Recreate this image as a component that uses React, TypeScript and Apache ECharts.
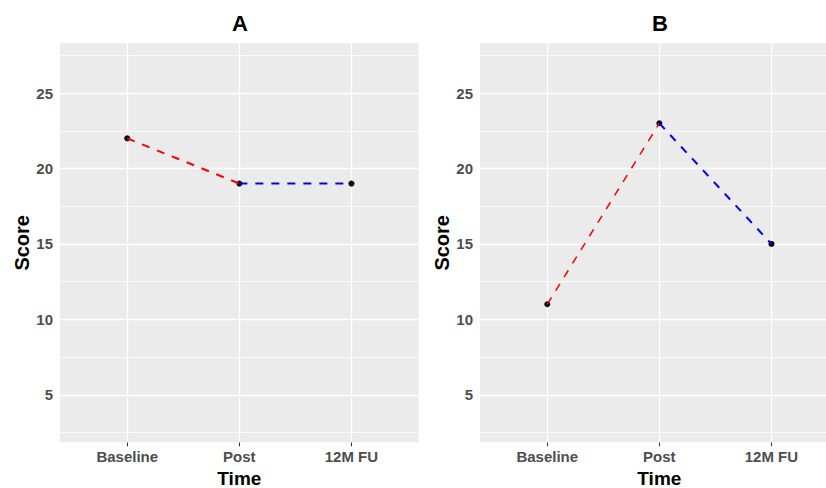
import React, { useEffect, useRef } from "react";
import * as echarts from "echarts";

// Time points on the x axis and the scores per panel
const timepoints = ["Baseline", "Post", "12M FU"];
const scoresA = [22, 19, 19];
const scoresB = [11, 23, 15];
const panelTitles = ["A", "B"];

// Tick labels and grid positions on the score axis
const yTicks = [5, 10, 15, 20, 25];
const yMinorGrid = [2.5, 7.5, 12.5, 17.5, 22.5, 27.5];
const xTicks = [0, 1, 2];

const FONT = '"Liberation Sans", Arial, sans-serif';
const PANEL_OFFSET = 420;

function buildOption() {
  const panels = [scoresA, scoresB];
  const grids: any[] = [];
  const xAxes: any[] = [];
  const yAxes: any[] = [];
  const series: any[] = [];
  const graphics: any[] = [];

  panels.forEach((scores, i) => {
    const left = 60 + i * PANEL_OFFSET;
    grids.push({
      left,
      top: 43.3,
      width: 358.7,
      height: 399,
      show: true,
      backgroundColor: "#EBEBEB",
      borderWidth: 0,
      containLabel: false,
      outerBoundsMode: "none",
    });
    xAxes.push({
      type: "value",
      gridIndex: i,
      min: -0.6,
      max: 2.6,
      name: "Time",
      nameLocation: "middle",
      nameGap: 26,
      nameTextStyle: { fontFamily: FONT, fontWeight: "bold", fontSize: 19, color: "#000" },
      axisLine: { show: false },
      splitLine: { show: false },
      axisTick: { show: true, customValues: xTicks, length: 4, lineStyle: { color: "#333", width: 1 } },
      axisLabel: {
        show: true,
        customValues: xTicks,
        margin: 7,
        formatter: (v: number) => timepoints[Math.round(v)] ?? "",
        fontFamily: FONT,
        fontWeight: "bold",
        fontSize: 15,
        color: "#4D4D4D",
      },
    });
    yAxes.push({
      type: "value",
      gridIndex: i,
      min: 1.85,
      max: 28.3,
      name: "Score",
      nameLocation: "middle",
      nameGap: 27,
      nameTextStyle: { fontFamily: FONT, fontWeight: "bold", fontSize: 20, color: "#000" },
      axisLine: { show: false },
      splitLine: { show: false },
      axisTick: { show: true, customValues: yTicks, length: 4, lineStyle: { color: "#333", width: 1 } },
      axisLabel: {
        show: true,
        customValues: yTicks,
        margin: 7,
        fontFamily: FONT,
        fontWeight: "bold",
        fontSize: 15,
        color: "#4D4D4D",
      },
    });

    const pts = scores.map((s, k) => [k, s]);

    // invisible carrier for the white panel grid lines
    series.push({
      type: "line",
      xAxisIndex: i,
      yAxisIndex: i,
      data: pts,
      symbol: "none",
      lineStyle: { opacity: 0 },
      silent: true,
      z: 1,
      markLine: {
        silent: true,
        z: 1,
        symbol: ["none", "none"],
        label: { show: false },
        emphasis: { disabled: true },
        data: [
          ...yMinorGrid.map((v) => ({ yAxis: v, lineStyle: { color: "#FFFFFF", width: 0.7, type: "solid" } })),
          ...yTicks.map((v) => ({ yAxis: v, lineStyle: { color: "#FFFFFF", width: 1.3, type: "solid" } })),
          ...xTicks.map((v) => ({ xAxis: v, lineStyle: { color: "#FFFFFF", width: 1.3, type: "solid" } })),
        ],
      },
    });

    series.push({
      type: "scatter",
      xAxisIndex: i,
      yAxisIndex: i,
      data: pts,
      symbol: "circle",
      symbolSize: 6,
      itemStyle: { color: "#000", opacity: 1 },
      z: 2,
    });

    series.push({
      type: "line",
      xAxisIndex: i,
      yAxisIndex: i,
      data: [pts[0], pts[1]],
      symbol: "none",
      lineStyle: { color: "#FF0000", width: i === 0 ? 2 : 1.5, type: [8, 8] },
      z: 3,
    });
    series.push({
      type: "line",
      xAxisIndex: i,
      yAxisIndex: i,
      data: [pts[1], pts[2]],
      symbol: "none",
      lineStyle: { color: "#0000FF", width: 2, type: [8, 8] },
      z: 3,
    });

    graphics.push({
      type: "text",
      x: 240 + i * PANEL_OFFSET,
      y: 23,
      style: {
        text: panelTitles[i],
        textAlign: "center",
        textVerticalAlign: "middle",
        fontFamily: FONT,
        fontWeight: "bold",
        fontSize: 22,
        fill: "#000",
      },
    });
  });

  return {
    animation: false,
    backgroundColor: "#FFFFFF",
    grid: grids,
    xAxis: xAxes,
    yAxis: yAxes,
    series,
    graphic: graphics,
  };
}

export default function App() {
  const ref = useRef<HTMLDivElement>(null);

  useEffect(() => {
    if (!ref.current) return;
    const chart = echarts.init(ref.current, undefined, { renderer: "svg" });
    chart.setOption(buildOption() as any);
    return () => chart.dispose();
  }, []);

  return (
    <div
      style={{
        position: "fixed",
        left: 0,
        top: 0,
        width: 826,
        height: 488,
        overflow: "hidden",
        background: "#fff",
      }}
    >
      <div ref={ref} style={{ width: 840, height: 488 }} />
    </div>
  );
}
